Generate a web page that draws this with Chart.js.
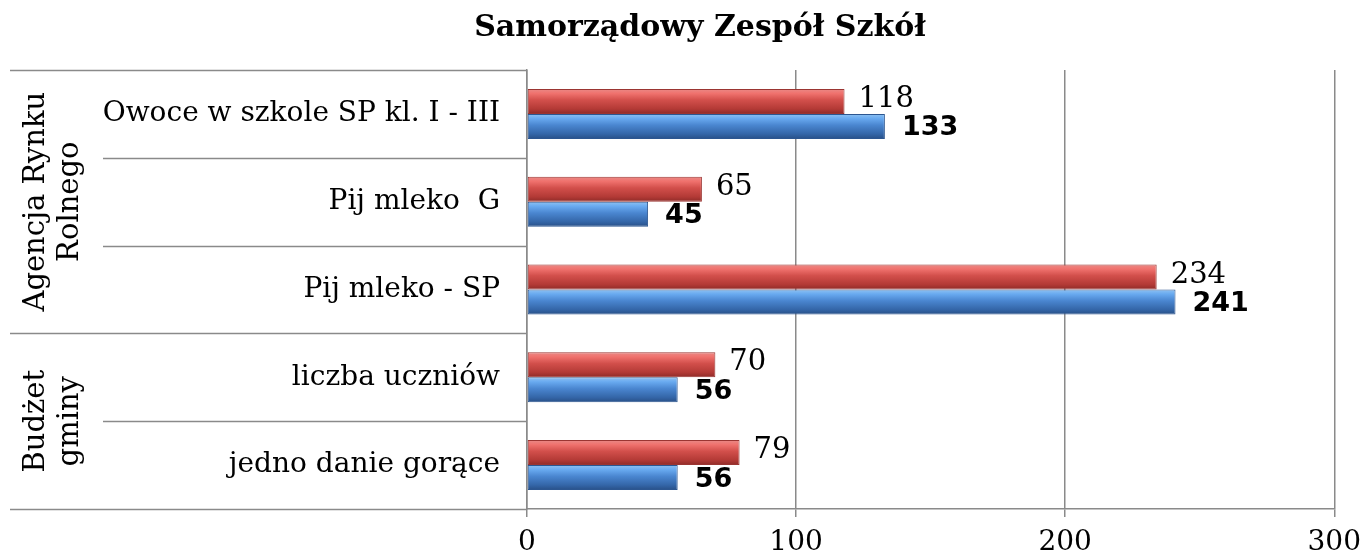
<!DOCTYPE html>
<html>
<head>
<meta charset="utf-8">
<script src="https://cdn.jsdelivr.net/npm/chart.js@4.4.1/dist/chart.umd.min.js"></script>
<style>
  html, body { margin: 0; padding: 0; background: #fff; }
  #wrap { width: 1370px; height: 559px; }
</style>
</head>
<body>
<div id="wrap"><canvas id="myChart" width="1370" height="559"></canvas></div>
<script>
// categories, top to bottom
const categories = ['Owoce w szkole SP kl. I - III', 'Pij mleko  G', 'Pij mleko - SP', 'liczba uczniów', 'jedno danie gorące'];
// group labels (lines) and how many categories each spans
const groups = [
    { lines: ['Agencja Rynku', 'Rolnego'], from: 0, to: 2 },
    { lines: ['Budżet', 'gminy'], from: 3, to: 4 }
];
const redValues = [118, 65, 234, 70, 79];
const blueValues = [133, 45, 241, 56, 56];
const xTicks = [0, 100, 200, 300];

const CAT_PCT = 0.57;
const SERIF = '"DejaVu Serif", "Liberation Serif", serif';
const LINE = '#8a8a8a';

function barFill(stops, first) {
    return function (c) {
        if (c.type !== 'data') return stops[2][1];
        const ys = c.chart.scales.y;
        if (!ys || ys.getPixelForValue(1) === undefined) return stops[2][1];
        const center = ys.getPixelForValue(c.dataIndex);
        const h = Math.abs(ys.getPixelForValue(1) - ys.getPixelForValue(0)) * CAT_PCT / 2;
        const top = first ? center - h : center;
        if (!isFinite(top)) return stops[2][1];
        const g = c.chart.ctx.createLinearGradient(0, top, 0, top + h);
        stops.forEach(s => g.addColorStop(s[0], s[1]));
        return g;
    };
}

const redStops = [[0, '#e98a87'], [0.18, '#f0726e'], [0.45, '#d24f4b'], [0.8, '#b33a36'], [1, '#8e2b28']];
const blueStops = [[0, '#8fc2f2'], [0.18, '#69aaf0'], [0.45, '#4a86d0'], [0.8, '#3466a8'], [1, '#284f86']];

const decorations = {
    id: 'decorations',
    afterDraw(chart) {
        const ctx = chart.ctx;
        const ys = chart.scales.y;
        const area = chart.chartArea;
        const step = ys.getPixelForValue(1) - ys.getPixelForValue(0);
        ctx.save();
        ctx.strokeStyle = LINE;
        ctx.lineWidth = 1.5;
        // separators in the label area
        for (let i = 0; i <= categories.length; i++) {
            const y = Math.round(ys.getPixelForValue(i) - step / 2) + 0.5;
            const full = groups.some(g => g.from === i) || i === categories.length;
            ctx.beginPath();
            ctx.moveTo(full ? 10 : 103, y);
            ctx.lineTo(area.left, y);
            ctx.stroke();
        }
        // group labels, rotated
        ctx.fillStyle = '#000';
        ctx.font = '29px ' + SERIF;
        ctx.textAlign = 'center';
        ctx.textBaseline = 'middle';
        groups.forEach(g => {
            const y0 = ys.getPixelForValue(g.from) - step / 2;
            const y1 = ys.getPixelForValue(g.to) + step / 2;
            const cy = (y0 + y1) / 2;
            g.lines.forEach((t, k) => {
                ctx.save();
                ctx.translate(36 + k * 34, cy);
                ctx.rotate(-Math.PI / 2);
                ctx.fillText(t, 0, 0);
                ctx.restore();
            });
        });
        // value labels
        ctx.textAlign = 'left';
        chart.data.datasets.forEach((ds, di) => {
            const meta = chart.getDatasetMeta(di);
            meta.data.forEach((el, i) => {
                if (di === 0) {
                    ctx.font = '29px ' + SERIF;
                    ctx.fillText(String(ds.data[i]), el.x + 14, el.y - 2);
                } else {
                    ctx.font = 'bold 27px "DejaVu Sans", Verdana, sans-serif';
                    ctx.fillText(String(ds.data[i]), el.x + 17, el.y + 2);
                }
            });
        });
        ctx.restore();
    }
};

const ctx = document.getElementById('myChart').getContext('2d');
const chart = new Chart(ctx, {
    type: 'bar',
    data: {
        labels: categories,
        datasets: [{
            label: 'red',
            data: redValues,
            backgroundColor: barFill(redStops, true),
            borderColor: '#9b3532',
            borderWidth: 1,
            borderSkipped: false,
            categoryPercentage: CAT_PCT,
            barPercentage: 1
        }, {
            label: 'blue',
            data: blueValues,
            backgroundColor: barFill(blueStops, false),
            borderColor: '#2c5690',
            borderWidth: 1,
            borderSkipped: false,
            categoryPercentage: CAT_PCT,
            barPercentage: 1
        }]
    },
    options: {
        indexAxis: 'y',
        responsive: false,
        animation: false,
        layout: { padding: { left: 63, right: 33, top: 0, bottom: 0 } },
        plugins: {
            legend: { display: false },
            tooltip: { enabled: false },
            title: {
                display: true,
                text: 'Samorządowy Zespół Szkół',
                color: '#000',
                font: { family: SERIF, size: 30, weight: 'bold', lineHeight: 1.2 },
                padding: { top: 10, bottom: 24 }
            }
        },
        scales: {
            x: {
                min: 0,
                max: 300,
                afterBuildTicks: s => { s.ticks = xTicks.map(v => ({ value: v })); },
                afterFit: s => { s.height = 50; },
                grid: { color: LINE, lineWidth: 1.5, tickLength: 8 },
                border: { display: true, color: LINE, width: 1.5 },
                ticks: { color: '#000', font: { family: SERIF, size: 28 }, padding: 9 }
            },
            y: {
                afterFit: s => { s.width = 464; },
                grid: { display: false, drawTicks: false },
                border: { display: true, color: LINE, width: 1.5 },
                ticks: { color: '#000', font: { family: SERIF, size: 28 }, padding: 27 }
            }
        }
    },
    plugins: [decorations]
});
</script>
</body>
</html>
